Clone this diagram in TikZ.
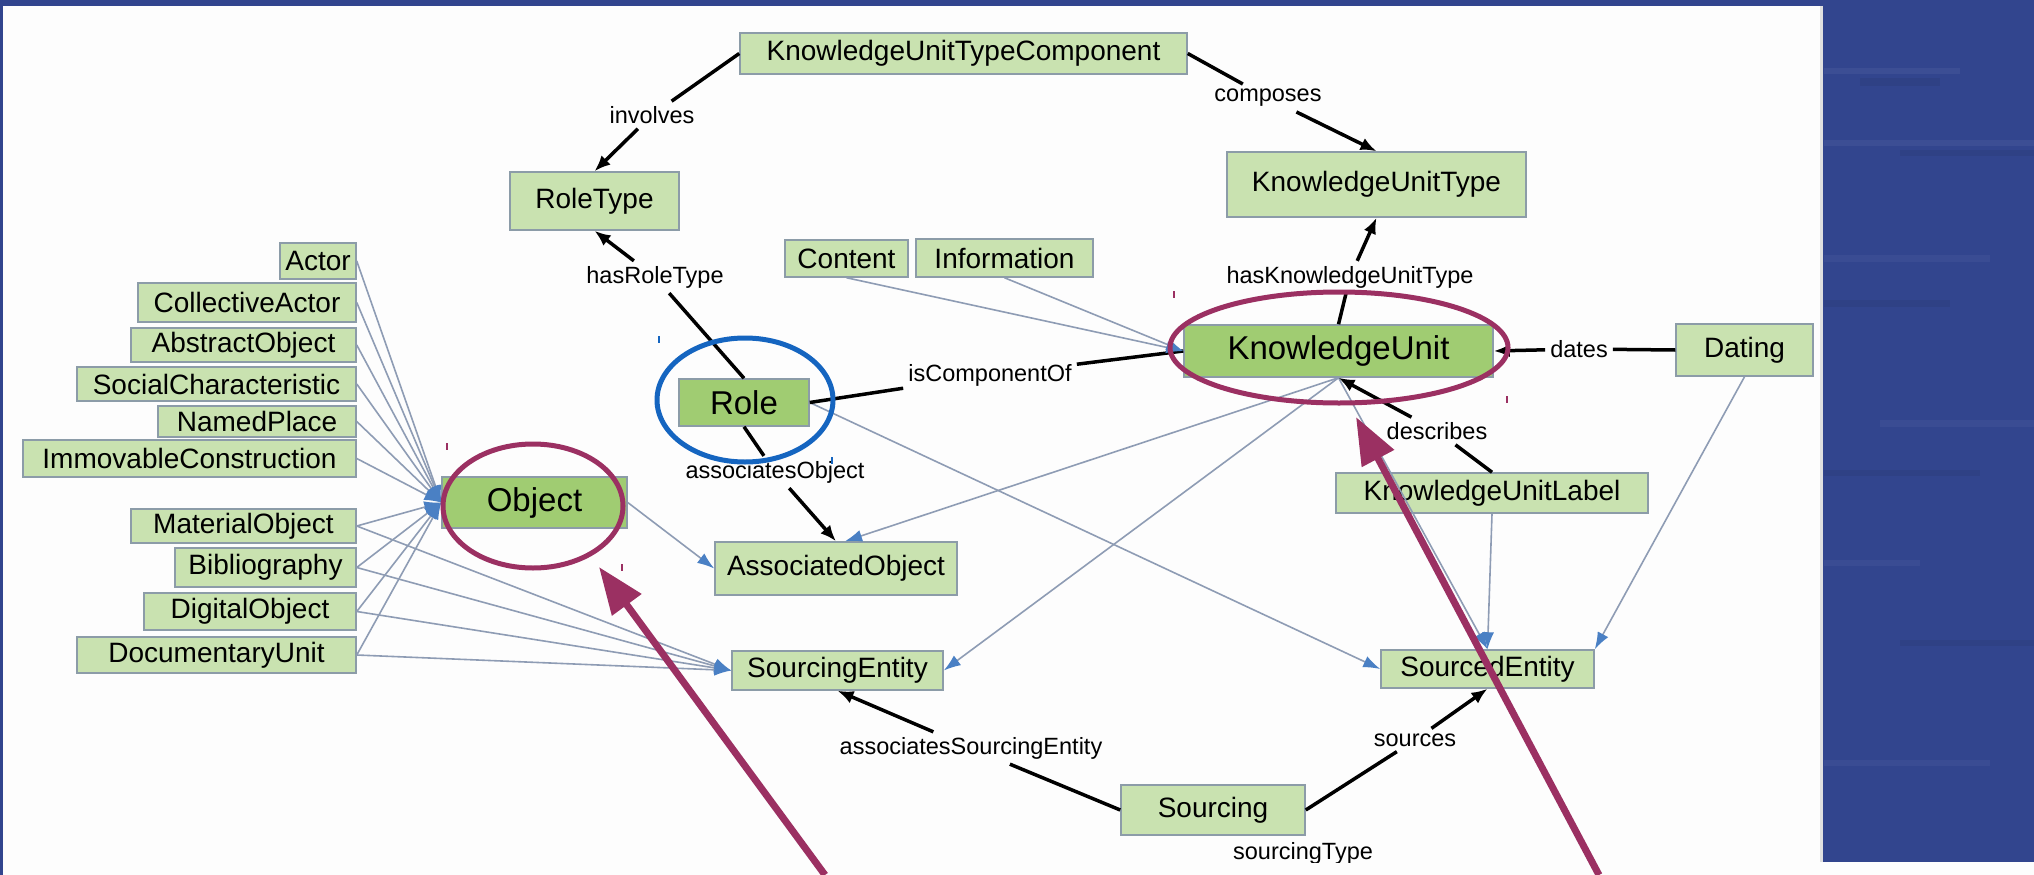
\documentclass[tikz,border=0pt]{standalone}
\usepackage{fontspec}
\setmainfont{Liberation Sans}
\usetikzlibrary{arrows.meta,shapes.geometric,calc}
\definecolor{panelblue}{HTML}{32458E}
\definecolor{lightg}{HTML}{C9E2B0}
\definecolor{darkg}{HTML}{A0CC72}
\definecolor{boxedge}{HTML}{8C9CA8}
\definecolor{thinline}{HTML}{8E9CB4}
\definecolor{tipblue}{HTML}{4A80C4}
\definecolor{purp}{HTML}{9B3062}
\definecolor{circblue}{HTML}{1565C0}
\definecolor{bgwhite}{HTML}{FDFDFD}
\begin{document}
\begin{tikzpicture}[x=1pt,y=-1pt,
  cls/.style={draw=boxedge, line width=1.5pt, fill=lightg, inner sep=0pt, text=black,
              font=\fontsize{28}{32}\selectfont},
  selcls/.style={cls, fill=darkg, font=\fontsize{33}{38}\selectfont},
  elabel/.style={inner sep=5pt, text=black, font=\fontsize{23.5}{26}\selectfont},
  rel/.style={draw=black, line width=3.5pt},
  relarrow/.style={rel, -{Latex[length=16pt,width=13pt]}},
  sub/.style={draw=thinline, line width=1.6pt, -{Latex[length=17pt,width=12pt,color=tipblue]}},
  ring/.style={ellipse, line width=5pt, inner sep=0pt},
  tick/.style={line width=1.6pt}
]
\useasboundingbox (0,0) rectangle (2034,875);
% background and frame
\fill[bgwhite] (0,0) rectangle (2034,875);
\fill[panelblue] (1823,0) rectangle (2034,862);
\fill[panelblue!95!white] (1824,68) rectangle (1960,74);
\fill[panelblue!94!black] (1860,78) rectangle (1940,86);
\fill[panelblue!95!white] (1824,140) rectangle (2034,146);
\fill[panelblue!94!black] (1900,150) rectangle (2034,156);
\fill[panelblue!96!white] (1824,255) rectangle (1990,262);
\fill[panelblue!94!black] (1824,300) rectangle (1950,307);
\fill[panelblue!96!white] (1880,420) rectangle (2034,427);
\fill[panelblue!94!black] (1824,470) rectangle (1980,476);
\fill[panelblue!96!white] (1824,560) rectangle (1920,566);
\fill[panelblue!94!black] (1900,640) rectangle (2034,646);
\fill[panelblue!96!white] (1824,760) rectangle (1990,766);
\fill[black!12] (1820,6) rectangle (1823,862);
\fill[panelblue] (0,0) rectangle (2034,6);
\fill[panelblue] (0,0) rectangle (2.5,875);

\begin{scope}
\clip (2.5,6) rectangle (1820,862);
% class nodes
\node[cls, minimum width=447pt, minimum height=41pt] (kutc) at (963.5,53.5) {KnowledgeUnitTypeComponent};
\node[cls, minimum width=169pt, minimum height=58pt] (roletype) at (594.5,201) {RoleType};
\node[cls, minimum width=299pt, minimum height=65pt] (kut) at (1376.5,184.5) {KnowledgeUnitType};
\node[cls, minimum width=123pt, minimum height=37pt] (content) at (846.5,258.5) {Content};
\node[cls, minimum width=177pt, minimum height=38pt] (information) at (1004.5,258) {Information};
\node[selcls, minimum width=309pt, minimum height=52pt] (ku) at (1338.5,351) {KnowledgeUnit};
\node[cls, minimum width=137pt, minimum height=52pt] (dating) at (1744.5,350) {Dating};
\node[selcls, minimum width=130pt, minimum height=47pt] (role) at (744,402.5) {Role};
\node[selcls, minimum width=185pt, minimum height=51pt] (object) at (534.5,502.5) {Object};
\node[cls, minimum width=242pt, minimum height=53pt] (ao) at (836,568.5) {AssociatedObject};
\node[cls, minimum width=312pt, minimum height=40pt] (kul) at (1492,493) {KnowledgeUnitLabel};
\node[cls, minimum width=211pt, minimum height=39pt] (sent) at (837.5,670.5) {SourcingEntity};
\node[cls, minimum width=213pt, minimum height=38pt] (sded) at (1487.5,669) {SourcedEntity};
\node[cls, minimum width=184pt, minimum height=50pt] (sourcing) at (1213,810) {Sourcing};
% left list
\node[cls, minimum width=76pt, minimum height=36pt] (actor) at (318,261) {Actor};
\node[cls, minimum width=218pt, minimum height=39pt] (collactor) at (247,302.5) {CollectiveActor};
\node[cls, minimum width=225pt, minimum height=34pt] (abstractobj) at (243.5,345) {AbstractObject};
\node[cls, minimum width=279pt, minimum height=34pt] (socialchar) at (216.5,384) {SocialCharacteristic};
\node[cls, minimum width=198pt, minimum height=31pt] (namedplace) at (257,421.5) {NamedPlace};
\node[cls, minimum width=333pt, minimum height=37pt] (immovable) at (189.5,458.5) {ImmovableConstruction};
\node[cls, minimum width=225pt, minimum height=34pt] (materialobj) at (243.5,526) {MaterialObject};
\node[cls, minimum width=181pt, minimum height=39pt] (biblio) at (265.5,567.5) {Bibliography};
\node[cls, minimum width=212pt, minimum height=37pt] (digitalobj) at (250,611.5) {DigitalObject};
\node[cls, minimum width=279pt, minimum height=36pt] (docunit) at (216.5,655) {DocumentaryUnit};

% edge labels
\node[elabel] (lInv) at (652,115) {involves};
\node[elabel] (lComp) at (1268,98) {composes};
\node[elabel] (lHRT) at (655,277) {hasRoleType};
\node[elabel] (lHKUT) at (1350,277) {hasKnowledgeUnitType};
\node[elabel] (lICO) at (990,375) {isComponentOf};
\node[elabel] (lAO) at (775,472) {associatesObject};
\node[elabel] (lDates) at (1579,349) {dates};
\node[elabel] (lDesc) at (1437,431) {describes};
\node[elabel] (lASE) at (971,748) {associatesSourcingEntity};
\node[elabel] (lSrc) at (1415,740) {sources};
\node[elabel] (lST) at (1303,853) {sourcingType};

% thin (subclass) connectors
\foreach \n in {actor,collactor,abstractobj,socialchar,namedplace,immovable,materialobj,biblio,digitalobj,docunit}
  \draw[sub] (\n.east) -- (object.west);
\foreach \n in {materialobj,biblio,digitalobj,docunit}
  \draw[sub] (\n.east) -- (sent.west);
\draw[sub] (object.east) -- (ao.west);
\draw[sub] (role.east) -- (sded.west);
\draw[sub] (ku.south) -- ($(ao.north)+(9,0)$);
\draw[sub] (ku.south) -- (sent.east);
\draw[sub] (ku.south) -- (sded.north);
\draw[sub] (kul.south) -- (sded.north);
\draw[sub] (dating.south) -- (sded.north east);

% black relations
\draw[rel] (kutc.west) -- (lInv);
\draw[relarrow] (lInv) -- (roletype.north);
\draw[rel] (kutc.east) -- (lComp);
\draw[relarrow] (lComp) -- (kut.north);
\draw[rel] (ku.north) -- (lHKUT);
\draw[relarrow] (lHKUT) -- (kut.south);
\draw[rel] (role.north) -- (lHRT);
\draw[relarrow] (lHRT) -- (roletype.south);
\draw[rel] (role.south) -- (lAO);
\draw[relarrow] (lAO) -- (ao.north);
\draw[rel] (role.east) -- (lICO);
\draw[rel] (lICO) -- (ku.west);
\draw[rel] (dating.west) -- (lDates);
\draw[relarrow] (lDates) -- (ku.east);
\draw[rel] (kul.north) -- (lDesc);
\draw[relarrow] (lDesc) -- (ku.south);
\draw[rel] (sourcing.west) -- (lASE);
\draw[relarrow] (lASE) -- (sent.south);
\draw[rel] (sourcing.east) -- (lSrc);
\draw[relarrow] (lSrc) -- (sded.south);

\draw[sub] (content.south) -- (ku.west);
\draw[sub] (information.south) -- (ku.west);

% highlight rings
\node[ring, draw=purp, minimum width=180pt, minimum height=124pt] (objring) at (533,506) {};
\node[ring, draw=purp, minimum width=338pt, minimum height=111pt] (kuring) at (1339,347.5) {};
\node[ring, draw=circblue, minimum width=176pt, minimum height=124pt] (rolering) at (745,400) {};
% selection ticks
\draw[tick, purp] (447,443) -- (447,450);
\draw[tick, purp] (622,564) -- (622,571);
\draw[tick, purp] (1174,291) -- (1174,298);
\draw[tick, purp] (1507,396) -- (1507,403);
\draw[tick, circblue] (659,336) -- (659,343);
\draw[tick, circblue] (832,457) -- (832,464);
\end{scope}

% pointer arrows
\coordinate (pa1tail) at (825,875);
\coordinate (pa1tip) at (599,567);
\coordinate (pa2tail) at (1599,875);
\coordinate (pa2tip) at (1356,417);
\draw[purp, line width=7pt, -{Triangle[length=47pt,width=35pt]}] (pa1tail) -- (pa1tip);
\draw[purp, line width=7pt, -{Triangle[length=47pt,width=35pt]}] (pa2tail) -- (pa2tip);
\end{tikzpicture}
\end{document}
